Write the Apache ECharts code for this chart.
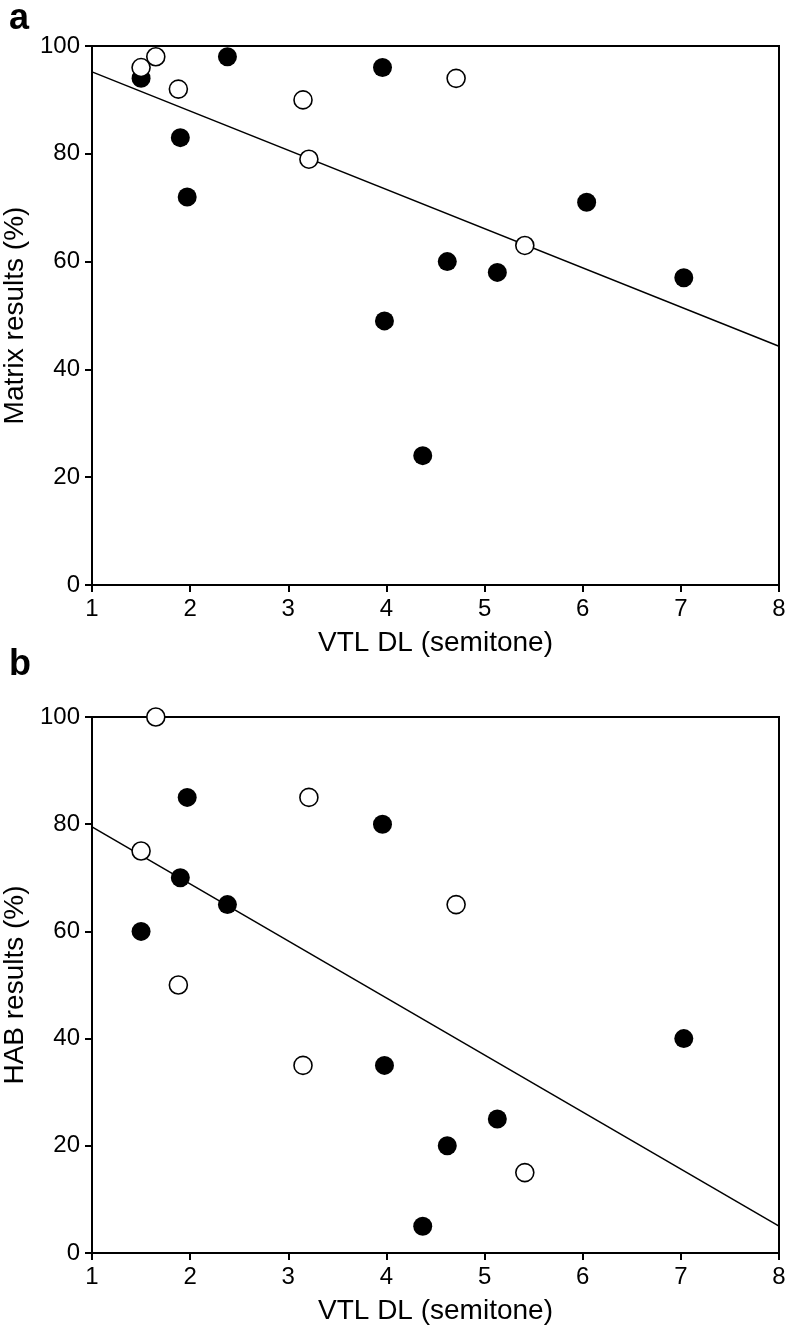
<!DOCTYPE html>
<html><head><meta charset="utf-8">
<script src="https://cdn.jsdelivr.net/npm/echarts@6/dist/echarts.min.js"></script>
<style>html,body{margin:0;padding:0;background:#fff}#c{width:789px;height:1335px}</style>
</head><body><div id="c"></div>
<script>
// VTL DL values (semitone) per listener, with matrix and HAB scores
const filledA = [[1.50,94],[1.90,83],[1.97,72],[2.38,98],[3.96,96],[3.98,49],[4.37,24],[4.62,60],[5.13,58],[6.04,71],[7.03,57]];
const openA   = [[1.50,96],[1.65,98],[1.88,92],[3.15,90],[3.21,79],[4.71,94],[5.41,63]];
const fitA    = [[1,95.2],[8,44.3]];
const filledB = [[1.50,60],[1.90,70],[1.97,85],[2.38,65],[3.96,80],[3.98,35],[4.37,5],[4.62,20],[5.13,25],[7.03,40]];
const openB   = [[1.50,75],[1.65,100],[1.88,50],[3.15,35],[3.21,85],[4.71,65],[5.41,15]];
const fitB    = [[1,79.5],[8,5.0]];
const xTitle = 'VTL DL (semitone)';
const yTitleA = 'Matrix results (%)';
const yTitleB = 'HAB results (%)';
const panelLabels = ['a','b'];

const FONT = 'Liberation Sans, Arial, Helvetica, sans-serif';
const chart = echarts.init(document.getElementById('c'), null, {renderer:'canvas'});
function xAx(idx){
  return {type:'value', gridIndex:idx, min:1, max:8, interval:1,
    axisLine:{show:true, onZero:false, lineStyle:{color:'#000', width:2}},
    axisTick:{show:true, inside:false, length:7, lineStyle:{color:'#000', width:2}},
    axisLabel:{color:'#000', fontSize:24, fontFamily:FONT, margin:12},
    splitLine:{show:false},
    name:xTitle, nameLocation:'middle', nameGap:44,
    nameTextStyle:{color:'#000', fontSize:28, fontFamily:FONT}};
}
function yAx(idx, title){
  return {type:'value', gridIndex:idx, min:0, max:100, interval:20,
    axisLine:{show:true, onZero:false, lineStyle:{color:'#000', width:2}},
    axisTick:{show:true, inside:false, length:7, lineStyle:{color:'#000', width:2}},
    axisLabel:{color:'#000', fontSize:24, fontFamily:FONT, margin:12},
    splitLine:{show:false},
    name:title, nameLocation:'middle', nameGap:60,
    nameTextStyle:{color:'#000', fontSize:28, fontFamily:FONT}};
}
function series(idx, fit, filled, open){
  return [
    {type:'line', xAxisIndex:idx, yAxisIndex:idx, data:fit, symbol:'none', silent:true,
      lineStyle:{color:'#000', width:1.5}, z:2},
    {type:'scatter', xAxisIndex:idx, yAxisIndex:idx, data:filled, symbol:'circle', symbolSize:19,
      itemStyle:{color:'#000', opacity:1}, clip:false, z:3},
    {type:'scatter', xAxisIndex:idx, yAxisIndex:idx, data:open, symbol:'circle', symbolSize:18,
      itemStyle:{color:'#fff', borderColor:'#000', borderWidth:1.6, opacity:1}, clip:false, z:4}
  ];
}
chart.setOption({
  animation:false,
  backgroundColor:'#fff',
  title:[
    {text:panelLabels[0], left:4, top:-4, textStyle:{fontSize:36, fontWeight:'bold', color:'#000', fontFamily:FONT}},
    {text:panelLabels[1], left:4, top:642, textStyle:{fontSize:36, fontWeight:'bold', color:'#000', fontFamily:FONT}}
  ],
  grid:[
    {left:92, top:46, width:687, height:539, containLabel:false, outerBoundsMode:'none', show:true, borderColor:'#000', borderWidth:2, backgroundColor:'transparent'},
    {left:92, top:717, width:687, height:536, containLabel:false, outerBoundsMode:'none', show:true, borderColor:'#000', borderWidth:2, backgroundColor:'transparent'}
  ],
  xAxis:[xAx(0), xAx(1)],
  yAxis:[yAx(0, yTitleA), yAx(1, yTitleB)],
  series:[].concat(series(0, fitA, filledA, openA), series(1, fitB, filledB, openB))
});
</script></body></html>
